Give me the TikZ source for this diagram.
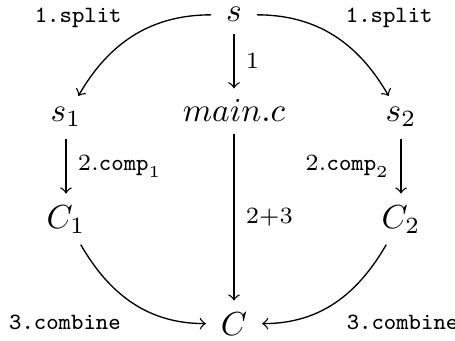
\documentclass[tikz,border=0pt]{standalone}
\usepackage{amsmath, amssymb}
\usepackage{tikz}

\begin{document}
\begin{tikzpicture}[x=0.3pt, y=0.3pt,
    obj/.style={inner xsep=1ex, inner ysep=3.3pt, anchor=base},
    lbl/.style={font=\scriptsize}]
        \useasboundingbox (0,0) rectangle (455,340);

        % Objects
        \node[obj] (s) at (234,318) {$s$};
        \node[obj] (s1) at (66,218) {$s_1$};
        \node[obj] (main) at (234,218) {$main.c$};
        \node[obj] (s2) at (401,218) {$s_2$};
        \node[obj] (C1) at (66,112) {$C_1$};
        \node[obj] (C2) at (401,112) {$C_2$};
        \node[obj] (C) at (234,5) {$C$};

        % Split
        \draw[->] (s) to[out=180, in=60] node[lbl, pos=0.5, above left, yshift=-1pt] {\texttt{1.split}} (s1);
        \draw[->] (s) to[out=0, in=120] node[lbl, pos=0.5, above right, yshift=-1pt] {\texttt{1.split}} (s2);
        \draw[->] (s) -- node[lbl, right] {$1$} (main);

        % Compile
        \draw[->] (s1) -- node[lbl, right] {$2.\mathtt{comp}_1$} (C1);
        \draw[->] (s2) -- node[lbl, left] {$2.\mathtt{comp}_2$} (C2);
        \draw[->] (main) -- node[lbl, right] {$2{+}3$} (C);

        % Combine
        \draw[->] (C1) to[out=-60, in=180] node[lbl, pos=0.5, below left] {\texttt{3.combine}} (C);
        \draw[->] (C2) to[out=-120, in=0] node[lbl, pos=0.5, below right] {\texttt{3.combine}} (C);
      \end{tikzpicture}
\end{document}
